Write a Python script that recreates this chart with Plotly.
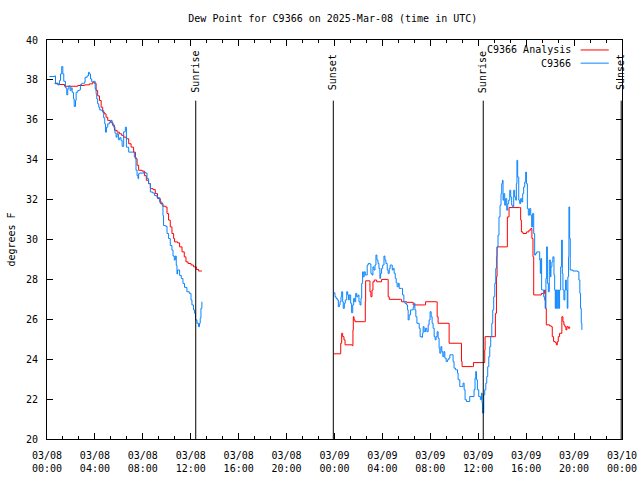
import pandas as pd
import plotly.graph_objects as go

# ---------------- data (hours after 2025-03-08 00:00 UTC, degrees F) ----------------
base = pd.Timestamp("2025-03-08 00:00")

obs_day1_hours = [0.21, 0.63, 0.71, 0.85, 0.93, 1.04, 1.13, 1.23, 1.32, 1.40, 1.54, 1.65, 1.73, 1.82, 1.93,
                  2.02, 2.10, 2.21, 2.27, 2.38, 2.43, 2.57, 2.71, 2.79, 2.90, 3.04, 3.13, 3.18, 3.35, 3.46,
                  3.54, 3.63, 3.73, 3.88, 4.02, 4.10, 4.15, 4.23, 4.32, 4.40, 4.52, 4.73, 4.82, 4.88, 4.96,
                  5.07, 5.21, 5.35, 5.43, 5.57, 5.68, 5.77, 5.85, 5.96, 6.07, 6.18, 6.27, 6.40, 6.54, 6.63,
                  6.82, 7.10, 7.29, 7.43, 7.52, 7.60, 7.65, 7.73, 8.07, 8.21, 8.35, 8.48, 8.63, 8.82, 8.98,
                  9.18, 9.40, 9.60, 9.68, 9.73, 9.88, 10.02, 10.15, 10.29, 10.43, 10.52, 10.63, 10.71, 10.79,
                  10.85, 10.90, 11.07, 11.21, 11.35, 11.48, 11.68, 11.88, 12.02, 12.10, 12.23, 12.32, 12.40,
                  12.52, 12.65, 12.73, 12.79, 12.85, 12.93]
obs_day1_dewpt = [38.17, 38.2, 37.8, 37.83, 37.75, 37.97, 38.3, 38.67, 38.3, 37.93, 37.6, 37.25, 37.55, 37.7, 37.47,
                  37.6, 37.38, 37.05, 36.67, 36.97, 37.38, 37.47, 37.5, 37.77, 37.83, 37.83, 37.88, 38.13, 38.2, 38.38,
                  38.3, 38.05, 37.9, 37.93, 37.55, 37.3, 37.05, 36.8, 36.63, 36.5, 36.47, 36.1, 35.8, 35.38, 35.63,
                  35.8, 35.88, 35.97, 35.8, 35.63, 35.33, 35.13, 35.3, 35.0, 35.1, 34.97, 34.67, 35.4, 35.63, 34.63,
                  34.38, 34.38, 34.13, 33.47, 33.2, 33.05, 33.3, 33.33, 33.38, 33.33, 33.05, 32.8, 32.38, 32.33, 32.2,
                  32.1, 31.88, 31.72, 31.2, 30.7, 30.67, 30.3, 30.05, 29.7, 29.47, 29.17, 28.97, 29.17, 28.7,
                  28.27, 28.47, 28.2, 28.05, 27.8, 27.6, 27.38, 27.3, 26.97, 26.72, 26.47, 26.3, 25.97,
                  25.8, 25.63, 25.8, 26.05, 26.55, 26.88]

obs_day2_hours = [23.96, 24.04, 24.13, 24.23, 24.32, 24.40, 24.46, 24.54, 24.60, 24.68, 24.73, 24.82, 24.90, 25.02,
                  25.10, 25.18, 25.23, 25.35, 25.43, 25.52, 25.60, 25.68, 25.77, 25.85, 25.96, 26.04, 26.13, 26.21,
                  26.27, 26.35, 26.40, 26.48, 26.57, 26.73, 26.82, 26.96, 27.04, 27.13, 27.21, 27.29, 27.38, 27.46,
                  27.54, 27.63, 27.71, 27.79, 27.85, 27.93, 28.02, 28.13, 28.21, 28.29, 28.40, 28.48, 28.57, 28.65,
                  28.82, 28.90, 28.98, 29.07, 29.15, 29.23, 29.32, 29.40, 29.60, 29.68, 29.79, 29.88, 30.02, 30.10,
                  30.15, 30.23, 30.35, 30.57, 30.65, 30.71, 30.79, 30.88, 30.98, 31.07, 31.15, 31.27, 31.35, 31.40,
                  31.48, 31.60, 31.71, 31.82, 31.90, 31.98, 32.07, 32.15, 32.23, 32.32, 32.40, 32.48, 32.57, 32.65,
                  32.73, 32.79, 32.88, 32.96, 33.04, 33.13, 33.21, 33.32, 33.43, 33.54, 33.63, 33.90, 33.98, 34.10,
                  34.27, 34.32, 34.46, 34.60, 34.73, 34.82, 34.90, 35.02, 35.15, 35.29, 35.57, 35.65, 35.73, 35.79,
                  35.85, 35.93, 36.04, 36.18, 36.27, 36.32, 36.35, 36.46, 36.54, 36.63, 36.71, 36.79, 36.88, 36.96,
                  37.04, 37.13, 37.21, 37.29, 37.38, 37.46, 37.52, 37.57, 37.65, 37.73, 37.82, 37.90, 37.96, 38.02,
                  38.07, 38.13, 38.21, 38.29, 38.38, 38.46, 38.54, 38.63, 38.71, 38.79, 38.88, 38.96, 39.04, 39.13,
                  39.18, 39.23, 39.29, 39.38, 39.46, 39.54, 39.63, 39.71, 39.79, 39.88, 39.96, 40.02, 40.10, 40.18,
                  40.29, 40.38, 40.46, 40.54, 40.63, 40.71, 40.79, 40.88, 41.04, 41.13, 41.18, 41.23, 41.29, 41.38,
                  41.46, 41.54, 41.60, 41.65, 41.71, 41.77, 41.85, 41.93, 42.02, 42.07, 42.15, 42.23, 42.32, 42.38,
                  42.43, 42.48, 42.54, 42.63, 42.71, 42.79, 42.88, 42.96, 43.02, 43.07, 43.15, 43.23, 43.29, 43.35,
                  43.43, 43.48, 43.54, 43.57, 43.63, 43.68, 43.90, 44.32, 44.40, 44.48, 44.54, 44.60, 44.65]
obs_day2_dewpt = [27.33, 27.13, 27.05, 26.97, 26.63, 26.72, 26.88, 27.13, 27.38, 26.88, 26.55, 26.8, 26.97, 27.38,
                  27.22, 26.97, 27.22, 26.8, 26.33, 26.72, 27.05, 26.88, 27.3, 27.13, 27.22, 26.88, 26.72, 27.05,
                  27.8, 28.38, 28.13, 28.38, 28.22, 28.72, 28.8, 28.77, 28.3, 28.22, 28.63, 28.47, 28.72, 29.22,
                  28.97, 28.8, 28.55, 28.05, 28.3, 28.55, 28.72, 29.17, 28.97, 28.8, 28.47, 28.3, 28.55, 28.72,
                  28.47, 28.55, 28.3, 28.05, 27.83, 27.63, 27.8, 27.55, 27.55, 27.22, 26.88, 26.8, 26.72, 26.47,
                  25.97, 26.22, 26.47, 26.63, 26.8, 26.47, 26.13, 25.8, 25.8, 25.55, 25.13, 25.1, 25.3, 25.63,
                  25.38, 25.55, 25.38, 25.72, 25.97, 26.38, 26.13, 25.8, 25.55, 25.13, 24.97, 25.13, 25.38, 25.05,
                  24.55, 24.3, 24.63, 24.38, 24.13, 24.38, 24.05, 23.88, 23.97, 24.05, 24.22, 23.88, 23.55, 23.47,
                  23.3, 22.97, 22.63, 22.63, 22.8, 22.47, 21.97, 21.88, 21.88, 22.13, 22.13, 22.47, 23.05, 23.38,
                  22.97, 22.47, 22.13, 21.97, 22.3, 21.8, 21.3, 22.22, 22.47, 22.8, 23.13, 23.63, 24.13, 24.63,
                  25.13, 25.8, 26.47, 27.13, 27.8, 28.55, 29.13, 29.63, 30.22, 31.13, 31.72, 32.3, 32.8, 32.97,
                  31.97, 32.3, 31.72, 32.05, 31.47, 31.8, 31.97, 32.47, 32.13, 31.72, 31.63, 32.47, 32.13, 31.97,
                  32.8, 33.97, 33.13, 31.97, 31.8, 32.05, 31.88, 32.3, 32.63, 32.88, 33.38, 32.8, 31.55, 31.22,
                  31.55, 31.22, 30.63, 31.3, 30.3, 29.22, 29.3, 29.38, 29.38, 28.97, 28.3, 29.05, 27.47, 27.47,
                  27.13, 26.97, 26.55, 28.05, 29.63, 27.8, 27.38, 28.97, 28.13, 28.63, 28.88, 29.13, 28.22, 27.47,
                  26.55, 27.47, 26.55, 27.47, 26.55, 27.47, 28.63, 29.97, 28.3, 27.47, 26.97, 27.47, 27.97, 27.47,
                  26.55, 28.13, 29.13, 31.63, 30.05, 28.47, 28.42, 28.38, 27.97, 27.3, 26.55, 25.8, 25.47]

ana_day1_hours = [0.63, 0.90, 1.46, 2.43, 2.57, 3.13, 3.54, 3.82, 3.96, 4.10, 4.23, 4.38, 4.52, 4.65, 4.79, 4.93,
                  5.07, 5.29, 5.48, 5.63, 5.85, 6.04, 6.23, 6.40, 6.63, 6.82, 7.02, 7.23, 7.38, 7.52, 7.65, 7.93,
                  8.13, 8.29, 8.48, 8.63, 8.85, 9.04, 9.23, 9.46, 9.68, 9.88, 10.02, 10.15, 10.29, 10.43, 10.57,
                  10.65, 10.90, 11.07, 11.27, 11.46, 11.60, 11.77, 12.02, 12.23, 12.46, 12.65, 12.93]
ana_day1_dewpt = [37.83, 37.77, 37.68, 37.68, 37.72, 37.75, 37.8, 37.88, 37.83, 37.47, 37.2, 36.97, 36.63, 36.38,
                  36.3, 36.13, 35.97, 35.88, 35.72, 35.47, 35.38, 35.3, 35.22, 35.13, 35.05, 34.8, 34.63, 34.38,
                  34.05, 33.72, 33.47, 33.43, 33.2, 32.97, 32.8, 32.55, 32.5, 32.3, 32.05, 31.8, 31.67, 31.63,
                  31.3, 30.97, 30.63, 30.3, 30.05, 29.88, 29.83, 29.63, 29.38, 29.13, 28.88, 28.8, 28.72, 28.63,
                  28.5, 28.42, 28.42]

ana_day2_hours = [23.96, 24.46, 24.52, 24.60, 24.68, 24.79, 24.88, 25.48, 25.54, 25.57, 25.63, 25.71, 26.52, 26.57,
                  26.60, 26.90, 26.96, 27.04, 27.13, 27.21, 27.32, 27.52, 27.93, 28.40, 28.48, 28.57, 29.52, 29.60,
                  30.02, 30.57, 31.54, 31.60, 32.52, 32.57, 32.65, 33.48, 33.57, 34.46, 34.60, 34.65, 35.52, 35.60,
                  36.46, 36.54, 36.57, 37.38, 37.43, 37.52, 37.57, 38.35, 38.43, 38.57, 39.46, 39.54, 39.60, 39.73,
                  40.02, 40.23, 40.38, 40.48, 40.57, 40.63, 41.27, 41.54, 41.60, 41.68, 41.96, 42.10, 42.18, 42.29,
                  42.43, 42.52, 42.60, 42.68, 42.79, 42.98, 43.07, 43.15, 43.23, 43.32, 43.40, 43.52, 43.63]
ana_day2_dewpt = [24.27, 24.27, 24.8, 25.3, 25.13, 24.97, 24.72, 24.68, 25.47, 26.13, 25.97, 25.88, 25.88, 26.88,
                  27.93, 27.93, 27.38, 27.13, 27.47, 27.88, 27.97, 27.88, 28.0, 28.0, 27.13, 27.0, 27.0, 26.88,
                  26.85, 26.72, 26.72, 26.88, 26.88, 26.13, 25.8, 25.8, 24.8, 24.8, 23.88, 23.63, 23.63, 23.83,
                  23.83, 24.47, 25.13, 25.13, 26.3, 28.13, 29.63, 29.63, 31.13, 31.6, 31.6, 30.97, 30.38, 30.3,
                  30.38, 30.47, 30.55, 30.05, 29.13, 27.22, 27.3, 27.47, 26.55, 25.72, 25.67, 25.63, 25.13, 24.88,
                  24.83, 24.72, 24.88, 25.13, 25.3, 26.13, 25.88, 25.72, 25.63, 25.47, 25.63, 25.55, 25.63]

sun_events = ["Sunrise", "Sunset", "Sunrise", "Sunset"]
sun_times = ["2025-03-08 12:25", "2025-03-08 23:54", "2025-03-09 12:25", "2025-03-09 23:56"]

tick_hours = list(range(0, 49, 4))
tick_labels = ["03/08<br>00:00", "03/08<br>04:00", "03/08<br>08:00", "03/08<br>12:00", "03/08<br>16:00",
               "03/08<br>20:00", "03/09<br>00:00", "03/09<br>04:00", "03/09<br>08:00", "03/09<br>12:00",
               "03/09<br>16:00", "03/09<br>20:00", "03/10<br>00:00"]

title_text = "Dew Point for C9366 on 2025-Mar-08 (time in UTC)"
RED = "#ff0000"
BLUE = "#0a84ff"
FONT = "DejaVu Sans Mono"


def to_time(hours):
    return list(base + pd.to_timedelta(pd.Series(hours, dtype=float), unit="h"))


def joined(h1, v1, h2, v2):
    t = to_time(h1) + [base + pd.Timedelta(hours=18)] + to_time(h2)
    v = list(v1) + [None] + list(v2)
    return t, v


obs_t, obs_v = joined(obs_day1_hours, obs_day1_dewpt, obs_day2_hours, obs_day2_dewpt)
ana_t, ana_v = joined(ana_day1_hours, ana_day1_dewpt, ana_day2_hours, ana_day2_dewpt)

fig = go.Figure()
fig.add_trace(go.Scatter(x=ana_t, y=ana_v, mode="lines", line=dict(color=RED, width=1, shape="hv"),
                         connectgaps=False, name="C9366 Analysis", showlegend=False))
fig.add_trace(go.Scatter(x=obs_t, y=obs_v, mode="lines", line=dict(color=BLUE, width=1, shape="hv"),
                         connectgaps=False, name="C9366", showlegend=False))

line_top = 0.848
for ev, tm in zip(sun_events, sun_times):
    fig.add_shape(type="line", xref="x", yref="paper", x0=tm, x1=tm, y0=0, y1=line_top,
                  line=dict(color="black", width=1))
    fig.add_annotation(x=tm, xref="x", y=0.92, yref="paper", text=ev, textangle=-90, showarrow=False,
                       xanchor="center", yanchor="middle", font=dict(family=FONT, size=10, color="black"))

# legend (text on the left, sample line on the right, as in the original)
for i, (name, col) in enumerate([("C9366 Analysis", RED), ("C9366", BLUE)]):
    yy = 0.975 - i * 0.033
    fig.add_annotation(x=0.914, xref="paper", y=yy, yref="paper", text=name, showarrow=False,
                       xanchor="right", yanchor="middle", font=dict(family=FONT, size=10, color="black"))
    fig.add_shape(type="line", xref="paper", yref="paper", x0=0.928, x1=0.977, y0=yy, y1=yy,
                  line=dict(color=col, width=1))

fig.update_layout(
    width=640, height=480,
    margin=dict(l=47, r=18, t=40, b=41, autoexpand=False),
    paper_bgcolor="white", plot_bgcolor="white",
    font=dict(family=FONT, size=10, color="black"),
    title=dict(text=title_text, x=0.52, xanchor="center", y=0.962, yanchor="middle",
               font=dict(family=FONT, size=10, color="black"), automargin=False),
)
fig.update_xaxes(
    type="date", range=[base, base + pd.Timedelta(hours=48)], automargin=False,
    tickmode="array", tickvals=to_time(tick_hours), ticktext=tick_labels,
    ticks="inside", ticklen=6, tickcolor="black", showline=True, linecolor="black", linewidth=1,
    mirror="allticks", showgrid=False, zeroline=False, ticklabelstandoff=7,
    minor=dict(ticks="inside", ticklen=3, tickcolor="black", tickmode="linear",
               tick0=base, dtick=80 * 60 * 1000, showgrid=False),
    tickfont=dict(family=FONT, size=10, color="black"),
)
fig.update_yaxes(
    range=[20, 40], dtick=2, tick0=20, automargin=False,
    ticks="inside", ticklen=6, tickcolor="black", showline=True, linecolor="black", linewidth=1,
    mirror="allticks", showgrid=False, zeroline=False, ticklabelstandoff=6,
    title=dict(text="degrees F", font=dict(family=FONT, size=10, color="black"), standoff=8),
    tickfont=dict(family=FONT, size=10, color="black"),
)

fig.write_html("out.html", config={"displayModeBar": False},
               post_script="document.body.style.margin='0';document.body.style.padding='0';")
